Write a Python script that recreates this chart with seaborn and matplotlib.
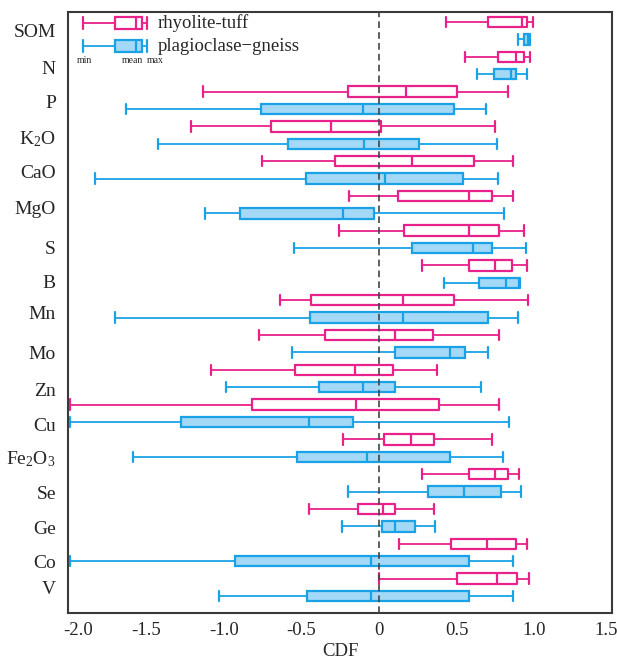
import numpy as np
import pandas as pd
import matplotlib
matplotlib.use("Agg")
import matplotlib.pyplot as plt
import matplotlib.transforms as mtransforms
from matplotlib.patches import Rectangle
import seaborn as sns

# element order, top to bottom
elements = ["SOM", "N", "P", "K$_2$O", "CaO", "MgO", "S", "B", "Mn", "Mo",
            "Zn", "Cu", "Fe$_2$O$_3$", "Se", "Ge", "Co", "V"]
rocks = ["rhyolite-tuff", "plagioclase\u2212gneiss"]

# rhyolite-tuff: min, box left, mean, box right, max
tuff_min = [0.43, 0.555, -1.13, -1.21, -0.75, -0.19, -0.26, 0.28, -0.64, -0.77,
            -1.08, -1.99, -0.23, 0.28, -0.45, 0.13, 0.0]
tuff_lo = [0.70, 0.765, -0.20, -0.695, -0.28, 0.12, 0.16, 0.58, -0.435, -0.345,
           -0.54, -0.815, 0.03, 0.58, -0.135, 0.465, 0.50]
tuff_mean = [0.92, 0.885, 0.175, -0.31, 0.21, 0.58, 0.58, 0.745, 0.155, 0.10,
             -0.155, -0.15, 0.205, 0.75, 0.025, 0.695, 0.76]
tuff_hi = [0.955, 0.935, 0.50, 0.01, 0.61, 0.725, 0.77, 0.855, 0.485, 0.345,
           0.09, 0.385, 0.355, 0.83, 0.105, 0.885, 0.89]
tuff_max = [0.99, 0.97, 0.83, 0.75, 0.86, 0.86, 0.935, 0.955, 0.96, 0.77,
            0.375, 0.77, 0.725, 0.90, 0.355, 0.95, 0.965]

# plagioclase-gneiss
gneiss_min = [0.895, 0.63, -1.63, -1.42, -1.83, -1.12, -0.545, 0.42, -1.70, -0.56,
              -0.985, -1.99, -1.585, -0.20, -0.235, -1.99, -1.03]
gneiss_lo = [0.935, 0.74, -0.76, -0.585, -0.47, -0.895, 0.215, 0.645, -0.445, 0.10,
             -0.385, -1.275, -0.525, 0.315, 0.02, -0.925, -0.465]
gneiss_mean = [0.96, 0.85, -0.10, -0.095, 0.04, -0.23, 0.605, 0.815, 0.155, 0.455,
               -0.10, -0.45, -0.075, 0.55, 0.10, -0.05, -0.05]
gneiss_hi = [0.965, 0.88, 0.485, 0.26, 0.54, -0.035, 0.73, 0.90, 0.70, 0.555,
             0.105, -0.165, 0.455, 0.785, 0.23, 0.58, 0.58]
gneiss_max = [0.97, 0.95, 0.69, 0.76, 0.765, 0.805, 0.945, 0.91, 0.895, 0.70,
              0.655, 0.84, 0.80, 0.915, 0.36, 0.86, 0.86]

xticks = [-2.0, -1.5, -1.0, -0.5, 0, 0.5, 1.0, 1.5]
xticklabels = ["-2.0", "-1.5", "-1.0", "-0.5", "0", "0.5", "1.0", "1.5"]

# layout: the original's element labels sit a little below the pair centre (px)
label_shift_px = [0, 2.5, 1.4, 1.6, 1.8, 3.3, 8.5, 7.4, 3.9, 9.1, 11.3, 11.5,
                  8.4, 9.9, 10.1, 9.0, 0.5]

PINK = "#E8228A"
BLUE = "#1AA2E6"
LIGHTBLUE = "#A3D8F6"
FRAME = "#3a3a3a"

# axes box in figure pixels (left, right, top, bottom)
AX_L, AX_R, AX_T, AX_B = 68.3, 612.0, 11.7, 613.3
W, H = 617, 661


def long_table(rock, *cols):
    # five values per box -> quartiles of linear percentile land exactly on them
    rows = []
    for i, el in enumerate(elements):
        for c in cols:
            rows.append({"element": el, "rock": rock, "CDF": c[i]})
    return pd.DataFrame(rows)


tuff = long_table(rocks[0], tuff_min, tuff_lo, tuff_mean, tuff_hi, tuff_max)
gneiss = long_table(rocks[1], gneiss_min, gneiss_lo, gneiss_mean, gneiss_hi, gneiss_max)

sns.set_style("white")
plt.rcParams["font.family"] = ["Liberation Serif", "DejaVu Serif"]
plt.rcParams["mathtext.fontset"] = "custom"
plt.rcParams["mathtext.rm"] = "Liberation Serif"
plt.rcParams["mathtext.it"] = "Liberation Serif:italic"

fig = plt.figure(figsize=(W / 100, H / 100), dpi=100)
ax = fig.add_axes([AX_L / W, 1 - AX_B / H, (AX_R - AX_L) / W, (AX_B - AX_T) / H])

common = dict(x="CDF", y="element", hue="rock", hue_order=rocks, order=elements,
              orient="y", dodge=True, width=1.0, gap=0.4, whis=(0, 100),
              saturation=1, legend=False, ax=ax, capwidths=0.3)

sns.boxplot(data=tuff, fill=False, palette={rocks[0]: PINK, rocks[1]: BLUE},
            linewidth=1.6, whiskerprops={"linewidth": 1.3}, **common)
sns.boxplot(data=gneiss, fill=True, palette={rocks[0]: PINK, rocks[1]: LIGHTBLUE},
            linecolor=BLUE, linewidth=1.6, whiskerprops={"linewidth": 1.3}, **common)

ax.axvline(0, color="#444444", ls=(0, (4, 2.5)), lw=1.2, zorder=5)

ax.set_xlim(-2.0, 1.5)
ax.set_ylim(16.75, -0.546)
ax.set_xticks(xticks)
ax.set_xticklabels(xticklabels)
px_per_unit = (AX_B - AX_T) / (16.75 + 0.546)
ax.set_yticks(np.arange(len(elements)) + np.array(label_shift_px) / px_per_unit)
ax.set_yticklabels(elements)
ax.set_xlabel("CDF", fontsize=13.5, labelpad=3)
ax.set_ylabel("")
ax.tick_params(axis="x", direction="in", length=6.5, width=1.3, color=FRAME,
               labelsize=13.5, pad=6.5)
ax.tick_params(axis="y", length=0, labelsize=14, pad=9)
for s in ax.spines.values():
    s.set_color(FRAME)
    s.set_linewidth(1.5)
    s.set_visible(True)

# end labels are nudged inward in the original
xlabs = ax.get_xticklabels()
xlabs[0].set_transform(xlabs[0].get_transform()
                       + mtransforms.ScaledTranslation(10 / 100, 0, fig.dpi_scale_trans))
xlabs[-1].set_transform(xlabs[-1].get_transform()
                        + mtransforms.ScaledTranslation(-6 / 100, 0, fig.dpi_scale_trans))


# hand-drawn legend keys in the top-left corner (pixel positions -> axes fraction)
def ax_xy(px, py):
    return (px - AX_L) / (AX_R - AX_L), 1 - (py - AX_T) / (AX_B - AX_T)


def legend_key(py, edge, face):
    kw = dict(transform=ax.transAxes, clip_on=False, zorder=6)
    x0, y = ax_xy(82.7, py)
    x1, _ = ax_xy(115, py)
    x2, _ = ax_xy(141.7, py)
    xm, _ = ax_xy(136, py)
    x3, _ = ax_xy(147, py)
    h = 12 / (AX_B - AX_T)
    ax.plot([x0, x1], [y, y], color=edge, lw=1.3, **kw)
    ax.plot([x2, x3], [y, y], color=edge, lw=1.3, **kw)
    ax.plot([x0, x0], [y - h / 2, y + h / 2], color=edge, lw=1.6, **kw)
    ax.plot([x3, x3], [y - h / 2, y + h / 2], color=edge, lw=1.6, **kw)
    ax.add_patch(Rectangle((x1, y - h / 2), x2 - x1, h, facecolor=face,
                           edgecolor=edge, lw=1.6, **kw))
    ax.plot([xm, xm], [y - h / 2, y + h / 2], color=edge, lw=1.6, **kw)


legend_key(22.7, PINK, "white")
legend_key(45.7, BLUE, LIGHTBLUE)
tx, ty = ax_xy(158, 23.5)
ax.text(tx, ty, rocks[0], transform=ax.transAxes, fontsize=13.5, va="center", ha="left")
tx, ty = ax_xy(158, 46.5)
ax.text(tx, ty, rocks[1], transform=ax.transAxes, fontsize=13.5, va="center", ha="left")
for lab, px in [("min", 84), ("mean", 132), ("max", 155)]:
    tx, ty = ax_xy(px, 60.7)
    ax.text(tx, ty, lab, transform=ax.transAxes, fontsize=7, va="center", ha="center")

fig.savefig("out.png", dpi=100)
